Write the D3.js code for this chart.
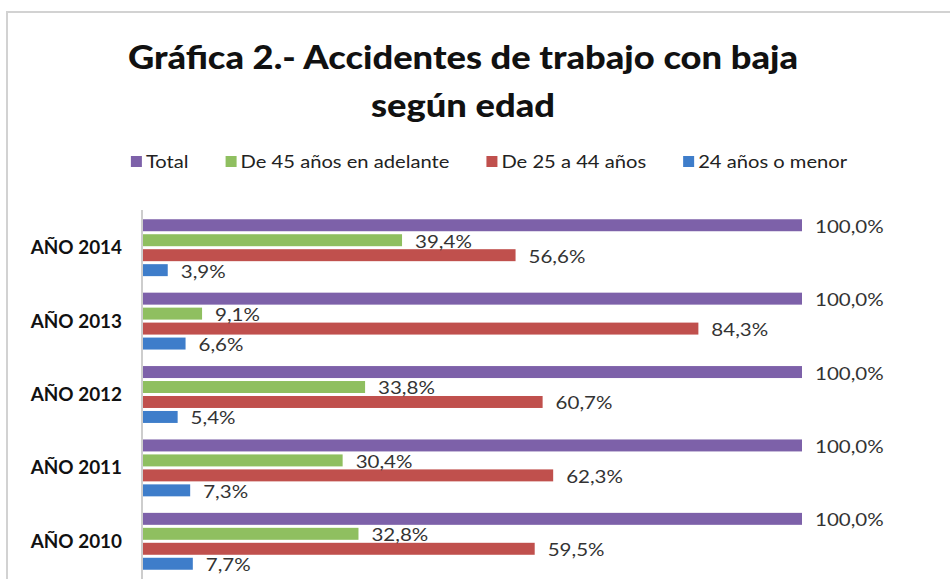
<!DOCTYPE html>
<html>
<head>
<meta charset="UTF-8">
<title>Gráfica 2</title>
<style>
  body { margin: 0; background: #fff; }
  svg { display: block; font-family: Lato, "Open Sans", sans-serif; }
  .title { font-weight: 900; font-size: 33px; fill: #111; }
  .legend text { font-size: 18px; fill: #222; }
  .ylab { font-weight: bold; font-size: 18px; fill: #111; }
  .val { font-size: 18px; fill: #333; }
</style>
</head>
<body>
<script src="https://cdn.jsdelivr.net/npm/d3@7"></script>
<script>
// datos
var years = ["AÑO 2014", "AÑO 2013", "AÑO 2012", "AÑO 2011", "AÑO 2010"];
var series = ["Total", "De 45 años en adelante", "De 25 a 44 años", "24 años o menor"];
var total   = [100.0, 100.0, 100.0, 100.0, 100.0];
var de45    = [39.4, 9.1, 33.8, 30.4, 32.8];
var de25a44 = [56.6, 84.3, 60.7, 62.3, 59.5];
var menor24 = [3.9, 6.6, 5.4, 7.3, 7.7];
var colors  = ["#7d61a9", "#8fbf60", "#c0504d", "#3e7dca"];

var values = [total, de45, de25a44, menor24];

var width = 950, height = 579;

// el texto del original es mas ancho: se estira en horizontal
function stretch(sel, sx) {
  sel.attr("transform", function() {
    var px = +d3.select(this).attr("x") || 0;
    return "translate(" + px + ",0) scale(" + sx + ",1) translate(" + (-px) + ",0)";
  });
}

var svg = d3.select("body").append("svg")
    .attr("width", width)
    .attr("height", height);

// marco
svg.append("rect")
    .attr("x", 7).attr("y", 12)
    .attr("width", 1000).attr("height", 700)
    .attr("fill", "none")
    .attr("stroke", "#d2d2d2")
    .attr("stroke-width", 2);

// titulo
var t1 = svg.append("text").attr("class", "title").attr("text-anchor", "middle")
    .attr("x", 463).attr("y", 69).text("Gráfica 2.- Accidentes de trabajo con baja");
var t2 = svg.append("text").attr("class", "title").attr("text-anchor", "middle")
    .attr("x", 463).attr("y", 117).text("según edad");
stretch(t1, 1.1);
stretch(t2, 1.1);

// escalas
var x = d3.scaleLinear().domain([0, 100]).range([142, 802]);
var y0 = d3.scaleBand().domain(years).range([211, 578]).paddingInner(0.225).paddingOuter(0.1125);
var y1 = d3.scaleBand().domain(series).range([0, y0.bandwidth()]).paddingInner(0.2).paddingOuter(0);

var es = d3.formatLocale({decimal: ",", thousands: ".", grouping: [3], currency: ["", "€"]});
var fmt = es.format(".1f");

// leyenda
var legend = svg.append("g").attr("class", "legend");
var lx = 0, lsx = 1.12;
series.forEach(function(s, i) {
  var g = legend.append("g").attr("transform", "translate(" + lx + ",0)");
  g.append("rect").attr("x", 0).attr("y", 156).attr("width", 11).attr("height", 11).attr("fill", colors[i]);
  var t = g.append("text").attr("x", 15).attr("y", 168).text(s);
  stretch(t, lsx);
  lx += 15 + t.node().getComputedTextLength() * lsx + 37;
});
lx -= 37;
legend.attr("transform", "translate(" + (489 - lx / 2) + ",0)");

// eje
svg.append("line")
    .attr("x1", x(0)).attr("x2", x(0))
    .attr("y1", 210).attr("y2", height)
    .attr("stroke", "#bdbdbd").attr("stroke-width", 1.5);

// etiquetas de categoria
var ylabs = svg.selectAll(".ylab")
  .data(years)
  .enter().append("text")
    .attr("class", "ylab")
    .attr("x", 122)
    .attr("y", function(d) { return y0(d) + y0.bandwidth() / 2; })
    .attr("dy", "0.36em")
    .attr("text-anchor", "end")
    .text(function(d) { return d; });
stretch(ylabs, 1.05);

// barras
var groups = svg.selectAll(".grp")
  .data(years)
  .enter().append("g")
    .attr("class", "grp")
    .attr("transform", function(d) { return "translate(0," + y0(d) + ")"; });

groups.selectAll("rect")
  .data(function(d, i) { return series.map(function(s, k) { return {s: s, v: values[k][i], c: colors[k]}; }); })
  .enter().append("rect")
    .attr("x", x(0) + 1)
    .attr("y", function(d) { return y1(d.s); })
    .attr("width", function(d) { return x(d.v) - x(0) - 1; })
    .attr("height", y1.bandwidth())
    .attr("fill", function(d) { return d.c; });

var vals = groups.selectAll(".val")
  .data(function(d, i) { return series.map(function(s, k) { return {s: s, v: values[k][i]}; }); })
  .enter().append("text")
    .attr("class", "val")
    .attr("x", function(d) { return x(d.v) + 13; })
    .attr("y", function(d) { return y1(d.s) + y1.bandwidth() / 2 + 1; })
    .attr("dy", "0.36em")
    .text(function(d) { return fmt(d.v) + "%"; });
stretch(vals, 1.14);
</script>
</body>
</html>
